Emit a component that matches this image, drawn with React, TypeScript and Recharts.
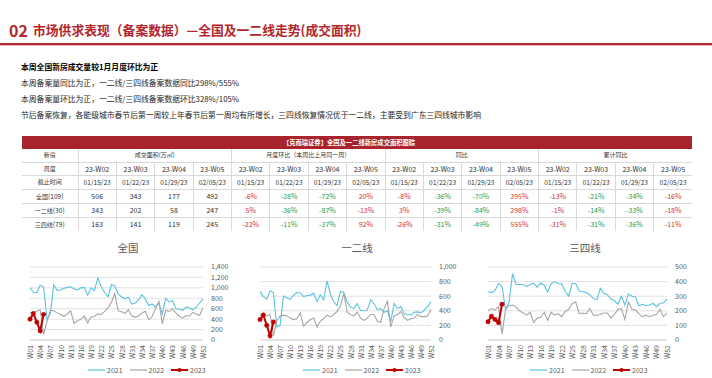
import React from 'react';
import { LineChart, Line, XAxis, YAxis, CartesianGrid, Legend } from 'recharts';

// ---- chart data ----
const weeks = [
  'W01', 'W02', 'W03', 'W04', 'W05', 'W06', 'W07', 'W08', 'W09', 'W10', 'W11', 'W12', 'W13',
  'W14', 'W15', 'W16', 'W17', 'W18', 'W19', 'W20', 'W21', 'W22', 'W23', 'W24', 'W25', 'W26',
  'W27', 'W28', 'W29', 'W30', 'W31', 'W32', 'W33', 'W34', 'W35', 'W36', 'W37', 'W38', 'W39',
  'W40', 'W41', 'W42', 'W43', 'W44', 'W45', 'W46', 'W47', 'W48', 'W49', 'W50', 'W51', 'W52',
];

const national2021 = [
  1000, 915, 910, 1050, 1020, 400, 500, 1060, 950, 960, 990, 1010, 1020, 980, 960, 1000, 1010, 860,
  1000, 950, 1190, 1020, 910, 830, 1060, 1040, 880, 830, 790, 820, 690, 710, 770, 870, 790, 660,
  690, 630, 710, 500, 800, 730, 760, 600, 590, 570, 630, 620, 580, 630, 710, 790,
];
const national2022 = [
  520, 540, 550, 580, 110, 350, 570, 560, 520, 490, 450, 500, 560, 320, 370, 400, 460, 330,
  440, 450, 500, 490, 550, 620, 720, 890, 560, 540, 510, 580, 460, 440, 460, 520, 550, 390,
  450, 600, 740, 310, 570, 550, 600, 520, 460, 420, 470, 460, 530, 500, 470, 620,
];
const national2023 = [400, 506, 343, 177, 492];

const tier12_2021 = [
  666, 595, 560, 675, 650, 180, 200, 600, 575, 560, 610, 650, 645, 595, 610, 615, 640, 530,
  620, 550, 810, 630, 520, 470, 665, 650, 520, 450, 430, 500, 405, 405, 410, 550, 500, 415,
  430, 380, 400, 250, 500, 430, 460, 360, 350, 345, 380, 385, 370, 410, 460, 525,
];
const tier12_2022 = [
  340, 340, 330, 350, 60, 260, 330, 340, 330, 300, 280, 290, 370, 190, 240, 280, 300, 180,
  260, 290, 340, 320, 350, 390, 470, 640, 380, 350, 330, 380, 300, 270, 300, 350, 350, 260,
  240, 430, 530, 180, 330, 350, 390, 310, 270, 290, 300, 350, 320, 320, 330, 420,
];
const tier12_2023 = [280, 343, 202, 58, 247];

const tier34_2021 = [
  330, 325, 340, 385, 370, 205, 260, 455, 380, 380, 380, 365, 380, 390, 360, 390, 375, 330,
  385, 400, 385, 385, 330, 300, 390, 385, 335, 330, 325, 310, 285, 275, 355, 320, 310, 280,
  270, 245, 300, 240, 315, 300, 295, 235, 245, 235, 240, 250, 230, 250, 255, 280,
];
const tier34_2022 = [
  200, 215, 205, 230, 40, 210, 235, 240, 225, 200, 185, 170, 190, 120, 150, 155, 190, 135,
  190, 170, 180, 160, 195, 210, 250, 260, 180, 185, 180, 215, 170, 170, 175, 185, 185, 150,
  175, 210, 215, 140, 260, 210, 205, 180, 160, 170, 160, 170, 175, 210, 160, 185,
];
const tier34_2023 = [125, 163, 141, 119, 245];

const ticksNational = [0, 200, 400, 600, 800, 1000, 1200, 1400];
const ticksTier12 = [0, 200, 400, 600, 800, 1000];
const ticksTier34 = [0, 100, 200, 300, 400, 500];

// ---- table data ----
const tableWeeks = ['23-W02', '23-W03', '23-W04', '23-W05'];
const tableDates = ['01/15/23', '01/22/23', '01/29/23', '02/05/23'];
const regionNames = ['全国', '一二线', '三四线'];
const regionCounts = ['(109)', '(30)', '(79)'];
const areaRows = [
  [506, 343, 177, 492],
  [343, 202, 58, 247],
  [163, 141, 119, 245],
];
const momRows = [
  [-6, -28, -72, 20],
  [5, -36, -87, -13],
  [-22, -11, -37, 92],
];
const yoyRows = [
  [-8, -36, -70, 395],
  [3, -39, -84, 298],
  [-26, -31, -49, 555],
];
const cumYoyRows = [
  [-13, -21, -34, -16],
  [-1, -14, -33, -18],
  [-31, -31, -36, -11],
];
const groupTitles = ['成交面积(万㎡)', '月度环比（本周比上月同一周）', '同比', '累计同比'];

const RED = '#b3262b';
const C2021 = '#5bc2e0';
const C2022 = '#a6a6a6';
const C2023 = '#c00000';
const FONT = '"Noto Sans CJK SC", "Noto Sans", sans-serif';

const pctColor = ['#d22f36', '#2e9a48', '#2e9a48', '#d22f36'];

const buildRows = (a: number[], b: number[], c: number[]) =>
  weeks.map((w, i) => ({ week: w, y2021: a[i], y2022: b[i], y2023: c[i] }));

const WeekTick = (props: any) => {
  const { x, y, payload } = props;
  return (
    <text
      x={x}
      y={y}
      transform={`rotate(-90 ${x} ${y})`}
      textAnchor="end"
      dominantBaseline="central"
      fontSize={7}
      fill="#595959"
      fontFamily={FONT}
    >
      {payload.value}
    </text>
  );
};

const legendItems = [
  { name: '2021', color: C2021, width: 1.2, dot: false },
  { name: '2022', color: C2022, width: 1.2, dot: false },
  { name: '2023', color: C2023, width: 2, dot: true },
];

const LegendBox = () => (
  <div style={{ display: 'flex', alignItems: 'center', fontSize: 7, color: '#595959', fontFamily: FONT, lineHeight: '12px' }}>
    {legendItems.map((it) => (
      <span key={it.name} style={{ display: 'flex', alignItems: 'center', marginRight: 7 }}>
        <svg width={17} height={8}>
          <line x1={0} y1={4} x2={17} y2={4} stroke={it.color} strokeWidth={it.width} />
          {it.dot && <circle cx={8.5} cy={4} r={2} fill={it.color} />}
        </svg>
        <span style={{ marginLeft: 2 }}>{it.name}</span>
      </span>
    ))}
  </div>
);

interface MiniChartProps {
  title: string;
  left: number;
  width: number;
  marginRight: number;
  titleX: number;
  legendLeft: number;
  ticks: number[];
  a: number[];
  b: number[];
  c: number[];
}

const MiniChart: React.FC<MiniChartProps> = ({ title, left, width, marginRight, titleX, legendLeft, ticks, a, b, c }) => {
  const data = buildRows(a, b, c);
  return (
    <>
      <div
        style={{
          position: 'absolute', top: 240, left: titleX - 40, width: 80, textAlign: 'center',
          fontSize: 10.5, color: '#595959', lineHeight: '16px', fontFamily: FONT,
        }}
      >
        {title}
      </div>
      <div style={{ position: 'absolute', top: 258, left }}>
        <LineChart width={width} height={120} data={data} margin={{ top: 9, right: marginRight, bottom: 16, left: 30 }}>
          <CartesianGrid vertical={false} stroke="#d9d9d9" strokeWidth={0.8} />
          <XAxis
            dataKey="week"
            interval={2}
            tick={<WeekTick />}
            tickLine={false}
            tickSize={3}
            tickMargin={2}
            axisLine={{ stroke: '#d9d9d9' }}
            height={22}
          />
          <YAxis
            orientation="right"
            domain={[ticks[0], ticks[ticks.length - 1]]}
            ticks={ticks}
            interval={0}
            axisLine={false}
            tickLine={false}
            width={30}
            tick={{ fontSize: 7, fill: '#595959', fontFamily: FONT }}
            tickFormatter={(v: number) => v.toLocaleString('en-US')}
          />
          <Legend
            verticalAlign="middle"
            align="center"
            layout="horizontal"
            content={<LegendBox />}
            wrapperStyle={{ top: 106, left: legendLeft, width: 'auto', height: 12 }}
          />
          <Line type="linear" dataKey="y2021" name="2021" stroke={C2021} strokeWidth={1.1} dot={false} isAnimationActive={false} />
          <Line type="linear" dataKey="y2022" name="2022" stroke={C2022} strokeWidth={1.1} dot={false} isAnimationActive={false} />
          <Line
            type="linear"
            dataKey="y2023"
            name="2023"
            stroke={C2023}
            strokeWidth={2}
            dot={{ r: 2.2, fill: C2023, stroke: C2023, strokeWidth: 0.5 }}
            isAnimationActive={false}
          />
        </LineChart>
      </div>
    </>
  );
};

const cell: React.CSSProperties = {
  border: '0.6px solid #d9d9d9',
  padding: 0,
  height: 12.6,
  lineHeight: '12px',
  textAlign: 'center',
  whiteSpace: 'nowrap',
  overflow: 'hidden',
};
const cjk: React.CSSProperties = { fontSize: 6 };

const fmtPct = (v: number) => `${v}%`;

const DataTable = () => {
  const groups = [areaRows, momRows, yoyRows, cumYoyRows];
  return (
    <div style={{ position: 'absolute', left: 22, top: 136, width: 670, fontFamily: FONT }}>
      <div
        style={{
          height: 13, background: '#a8232b', color: '#fff', fontSize: 6.3, fontWeight: 700,
          textAlign: 'center', lineHeight: '13px', paddingRight: 16,
        }}
      >
        【克而瑞证券】全国及一二线新房成交面积跟踪
      </div>
      <table
        style={{
          width: 670, borderCollapse: 'collapse', tableLayout: 'fixed', fontSize: 7, color: '#333',
          borderStyle: 'hidden',
        }}
      >
        <colgroup>
          <col style={{ width: 56 }} />
          {Array.from({ length: 16 }).map((_, i) => (
            <col key={i} style={{ width: 38.375 }} />
          ))}
        </colgroup>
        <tbody>
          <tr>
            <td style={{ ...cell, ...cjk }}>新房</td>
            {groupTitles.map((g) => (
              <td key={g} colSpan={4} style={{ ...cell, ...cjk }}>{g}</td>
            ))}
          </tr>
          <tr>
            <td style={{ ...cell, ...cjk }}>周度</td>
            {groupTitles.map((g) =>
              tableWeeks.map((w) => (
                <td key={g + w} style={cell}>{w}</td>
              ))
            )}
          </tr>
          <tr>
            <td style={{ ...cell, ...cjk }}>截止时间</td>
            {groupTitles.map((g) =>
              tableDates.map((d) => (
                <td key={g + d} style={{ ...cell, fontSize: 6.6 }}>{d}</td>
              ))
            )}
          </tr>
          {regionNames.map((r, ri) => (
            <tr key={r}>
              <td style={cell}>
                <span style={cjk}>{r}</span>
                <span style={{ fontSize: 6.6 }}>{regionCounts[ri]}</span>
              </td>
              {groups.map((rows, gi) =>
                rows[ri].map((v, ci) => (
                  <td key={gi + '-' + ci} style={{ ...cell, color: gi === 0 ? '#333' : pctColor[ci] }}>
                    {gi === 0 ? v : fmtPct(v)}
                  </td>
                ))
              )}
            </tr>
          ))}
        </tbody>
      </table>
    </div>
  );
};

export default function App() {
  return (
    <div
      style={{
        position: 'absolute', left: 0, top: 0, width: 712, height: 378, background: '#fff',
        overflow: 'hidden', fontFamily: FONT,
      }}
    >
      {/* header */}
      <div style={{ position: 'absolute', left: 9, top: 20, fontSize: 16, fontWeight: 700, color: RED, lineHeight: '20px' }}>
        02
      </div>
      <div style={{ position: 'absolute', left: 33, top: 21, fontSize: 12.8, fontWeight: 700, color: RED, lineHeight: '18px', whiteSpace: 'nowrap' }}>
        市场供求表现（备案数据）—全国及一二线走势(成交面积)
      </div>
      <div style={{ position: 'absolute', left: 0, top: 42.5, width: 712, height: 2, background: RED }} />
      <div style={{ position: 'absolute', left: 0, top: 44.5, width: 712, height: 1, background: '#e8b6b6' }} />

      {/* commentary */}
      <div style={{ position: 'absolute', left: 21, top: 58.5, fontSize: 7.8, lineHeight: '16.3px', color: '#262626', whiteSpace: 'nowrap' }}>
        <div style={{ fontWeight: 700, color: '#000' }}>本周全国新房成交量较1月月度环比为正</div>
        <div>本周备案量同比为正，一二线/三四线备案数据同比298%/555%</div>
        <div>本周备案量环比为正，一二线/三四线备案数据环比328%/105%</div>
        <div>节后备案恢复，各能级城市春节后第一周较上年春节后第一周均有所增长，三四线恢复情况优于一二线，主要受到广东三四线城市影响</div>
      </div>

      <DataTable />

      <MiniChart title="全国" left={0} width={250} marginRight={17} titleX={128} legendLeft={88}
        ticks={ticksNational} a={national2021} b={national2022} c={national2023} />
      <MiniChart title="一二线" left={230} width={250} marginRight={19} titleX={357} legendLeft={73}
        ticks={ticksTier12} a={tier12_2021} b={tier12_2022} c={tier12_2023} />
      <MiniChart title="三四线" left={458} width={254} marginRight={15} titleX={585} legendLeft={72}
        ticks={ticksTier34} a={tier34_2021} b={tier34_2022} c={tier34_2023} />
    </div>
  );
}
